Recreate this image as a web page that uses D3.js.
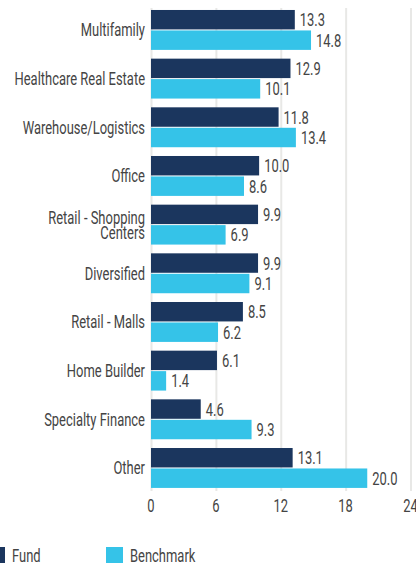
<!DOCTYPE html>
<html>
<head>
<meta charset="utf-8">
<script src="https://cdn.jsdelivr.net/npm/d3@7"></script>
<style>
  html, body { margin: 0; padding: 0; background: #fff; overflow: hidden; }
  text { font-family: Roboto, "Noto Sans", sans-serif; font-weight: 400; fill: #444; }
</style>
</head>
<body>
<div id="chart"></div>
<script>
// data
const categories = ["Multifamily", "Healthcare Real Estate", "Warehouse/Logistics", "Office",
  "Retail - Shopping Centers", "Diversified", "Retail - Malls", "Home Builder",
  "Specialty Finance", "Other"];
const fundValues = [13.3, 12.9, 11.8, 10.0, 9.9, 9.9, 8.5, 6.1, 4.6, 13.1];
const benchValues = [14.8, 10.1, 13.4, 8.6, 6.9, 9.1, 6.2, 1.4, 9.3, 20.0];
const seriesNames = ["Fund", "Benchmark"];
const xTicks = [0, 6, 12, 18, 24];

const colors = { Fund: "#1b365e", Benchmark: "#35c3e8" };

// multi-line labels
const labelLines = { "Retail - Shopping Centers": ["Retail - Shopping", "Centers"] };

const W = 416, H = 563;
const FS = 18;      // font size
const SX = 0.72;    // horizontal squeeze to mimic a condensed face

const svg = d3.select("#chart").append("svg").attr("width", W).attr("height", H);

// squeezed text at (px, py)
function ctext(parent, px, py, str, anchor) {
  return parent.append("text")
    .attr("transform", `translate(${px},${py}) scale(${SX},1)`)
    .attr("text-anchor", anchor || "start")
    .attr("dy", "0.36em")
    .style("font-size", FS + "px")
    .text(str);
}

const x = d3.scaleLinear().domain([0, 24]).range([151, 410.5]);
const y = d3.scaleBand().domain(categories).range([5.6, 492.3])
  .paddingInner(0.18).paddingOuter(0.09);
const ySub = d3.scaleBand().domain(seriesNames).range([0, y.bandwidth()]).paddingInner(0.05);

// gridlines
svg.append("g")
  .attr("transform", "translate(0,8)")
  .call(d3.axisBottom(x).tickValues(xTicks).tickSize(483).tickFormat(""))
  .call(g => g.select(".domain").remove())
  .selectAll("line").attr("stroke", "#e8e8e6").attr("stroke-width", 2);

// tick labels
const axisG = svg.append("g");
xTicks.forEach(t => ctext(axisG, x(t), 506, String(t), "middle"));

const rows = categories.map((c, i) => ({ cat: c, Fund: fundValues[i], Benchmark: benchValues[i] }));

const grp = svg.selectAll(".row").data(rows).enter().append("g")
  .attr("class", "row")
  .attr("transform", d => `translate(0,${y(d.cat)})`);

seriesNames.forEach(s => {
  grp.append("rect")
    .attr("x", x(0))
    .attr("y", ySub(s))
    .attr("width", d => x(d[s]) - x(0))
    .attr("height", ySub.bandwidth())
    .attr("fill", colors[s]);
  grp.each(function (d) {
    ctext(d3.select(this), x(d[s]) + 5, ySub(s) + ySub.bandwidth() / 2, d[s].toFixed(1));
  });
});

// category labels
grp.each(function (d) {
  const lines = labelLines[d.cat] || [d.cat];
  const mid = y.bandwidth() / 2;
  const lh = 15;
  lines.forEach((ln, k) => {
    ctext(d3.select(this), 145, mid + (k - (lines.length - 1) / 2) * lh, ln, "end");
  });
});

// legend
const legend = svg.append("g").attr("transform", "translate(0,547)");
const legX = { Fund: -12, Benchmark: 106 };
seriesNames.forEach(s => {
  legend.append("rect").attr("x", legX[s]).attr("y", 0).attr("width", 17).attr("height", 17)
    .attr("fill", colors[s]);
  ctext(legend, legX[s] + 24, 9, s);
});
</script>
</body>
</html>
